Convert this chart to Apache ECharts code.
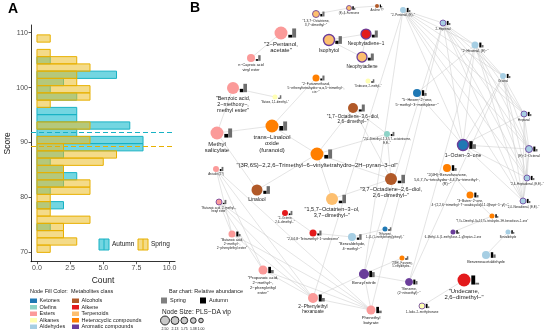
<!DOCTYPE html>
<html><head><meta charset="utf-8">
<script src="https://cdn.jsdelivr.net/npm/echarts@6/dist/echarts.min.js"></script>
<style>html,body{margin:0;padding:0;background:#fff}#c{width:550px;height:334px}</style>
</head><body><div id="c"></div><script>
// ---------- Panel A data ----------
const binCenters = [108.94,107.62,106.30,104.98,103.66,102.34,101.02,99.70,98.38,97.06,95.74,94.42,93.10,91.78,90.46,89.14,87.82,86.50,85.18,83.86,82.54,81.22,79.90,78.58,77.26,75.94,74.62,73.30,71.98,70.66];
const binWidth = 1.32;
const autumnCounts = [0,0,0,1,0,6,2,1,3,0,3,3,7,3,8,8,2,1,2,3,2,1,0,2,0,0,1,0,0,0];
const springCounts = [1,0,1,3,4,3,3,4,4,1,0,0,4,0,4,2,6,5,2,2,4,4,1,1,1,4,2,2,3,1];
const autumnMean = 91.8;
const springMean = 89.3;
const countTicks = [0,2.5,5,7.5,10];
const scoreTicks = [70,80,90,100,110];

// ---------- Panel B data ----------
const classNames = ['Ketones','Olefins','Esters','Alkanes','Aldehydes','Alcohols','Alkene','Terpenoids','Heterocyclic compounds','Aromatic compounds'];
const nodeLabels = [
 '"2−Pentanol,\nacetate"','n−Caproic acid\nvinyl ester','"Benzoic acid,\n2−methoxy−,\nmethyl ester"','"Butane, 2,2−dimethyl−"',
 'Methyl\nsalicylate','trans−Linalool\noxide\n(furanoid)','"(3R,6S)−2,2,6−Trimethyl−6−vinyltetrahydro−2H−pyran−3−ol"','Linalool',
 '"1,7−Octadiene−3,6−diol,\n2,6−dimethyl−"','"2,6−Dimethyl−1,3,5,7−octatetraene,\nE,E−"','"3,7−Octadiene−2,6−diol,\n2,6−dimethyl−"','"1,5,7−Octatrien−3−ol,\n3,7−dimethyl−"',
 '"2−Octene,\n2,6−dimethyl−"','"2,4,6,8−Tetramethyl−1−undecene"','"Benzaldehyde,\n4−methyl−"','"Ethanone,\n1−(4−(1−methylethenyl)phenyl)−"',
 '"2(3H)−Furanone,\n5−ethyldihydro−"','Benzyl nitrile','"Benzene,\n(2−nitroethyl)−"','2−Phenylethyl\nhexanoate',
 'Phenethyl\nbutyrate','"Undecane,\n2,6−dimethyl−"','1−Iodo−2−methylnonane','Benzeneacetaldehyde',
 'Benzaldehyde','6−Methyl−6−(5−methylfuran−2−yl)heptan−2−one','"7,7a−Dimethyl−3a,4,5,7a−tetrahydro−3H−benzofuran−2−one"','"3−Buten−2−one,\n4−(2,2,6−trimethyl−7−oxabicyclo[4.1.0]hept−1−yl)−"',
 '"2(4H)−Benzofuranone,\n5,6,7,7a−tetrahydro−4,4,7a−trimethyl−,\n(R)−"','1−Octen−3−one','Heptanal','(E)−2−Octenal',
 '"2,4−Heptadienal, (E,E)−"','"2,4−Nonadienal, (E,E)−"','Octanal','"2−Hexenal, (E)−"',
 '2−Heptenal','"2−Pentenal, (E)−"','"5−Hexen−2−one,\n5−methyl−3−methylene−"','"1,3,7−Octatriene,\n3,7−dimethyl−"',
 '(E)−β−Farnesene','Azulene ??','Isophytol','Neophytadiene−1',
 'Neophytadiene','"2−Furanmethanol,\n5−ethenyltetrahydro−α,α,5−trimethyl−,\ncis−"','"Undecane, 2−methyl−"','Anisole (2?)',
 '"Butanoic acid, 2−methyl−,\nhexyl ester"','"Butanoic acid,\n2−methyl−,\n2−phenylethyl ester"','"Propanoic acid,\n2−methyl−,\n2−phenylethyl\nester"'
];
const nodeClass = [2,2,2,3, 2,8,8,5, 5,1,5,7, 6,6,4,0, 8,9,9,2, 2,6,3,4, 4,9,8,8, 8,0,4,4, 4,4,4,4, 4,4,0,7, 7,5,7,6, 7,8,3,2, 2,2,2];
const nodeRing = [0,0,0,0, 0,0,0,0, 0,0,0,0, 0,0,0,0, 0,1,1,0, 0,0,1,0, 0,0,0,0, 0,1,1,1, 1,1,0,0, 1,0,0,1, 1,0,1,1, 1,0,0,0, 1,0,0];
const nodeVip = [2.5,1.67,2.33,1.17, 2.5,2.5,2.5,2.17, 2.0,1.33,2.33,2.33, 1.33,1.5,1.67,1.17, 1.17,1.83,1.5,2.0, 1.83,2.5,1.33,1.67, 1.17,1.17,1.17,1.5, 1.67,2.17,1.33,1.5, 1.33,1.33,1.33,1.5, 1.33,1.33,1.67,1.5, 1.17,1.0,2.17,2.0, 2.0,1.5,1.17,1.33, 1.33,1.5,1.83];
// layout coordinates (network layout space)
const layoutX = [96,66,48,90, 32,87,132,72, 168,202,206,147, 100,128,167,200, 217,179,224,128, 186,279,237,301, 323,268,307,285, 262,278,339,344, 342,338,318,290, 258,218,232,131, 164,192,144,181, 177,131,183,31, 34,47,78];
const layoutY = [33,58,88,97, 133,126,154,190, 108,134,179,199, 213,233,237,229, 258,274,282,298, 310,280,306,255, 232,232,216,195, 168,145,114,149, 178,201,76,45, 23,10,93,14, 8,6,40,34, 57,78,81,169, 202,234,270];
const relAutumn = [0.3,0.3,0.4,0.3, 0.4,0.5,0.4,0.4, 0.3,0.5,0.3,0.3, 0.4,0.4,0.4,0.4, 0.4,1,1,1, 1,1,1,1, 1,1,1,1, 1,1,1,1, 1,1,1,1, 1,1,1,0.5, 1,1,0.4,0.4, 0.4,0.4,0.4,0.5, 0.3,1,1];
const relSpring = [1,1,1,1, 1,1,1,1, 1,1,1,1, 1,1,1,1, 1,0.8,0.7,0.5, 0.4,0.2,0.4,0.6, 0.5,0.5,0.5,0.5, 0.5,0.6,0.5,0.5, 0.5,0.5,0.5,0.5, 0.5,0.5,0.5,1, 0.5,0.5,1,1, 1,1,1,1, 1,0.5,0.5];
const edges = [
 [0,1],[2,3],[2,4],[4,5],[4,7],[5,6],[5,45],[6,8],[6,9],[6,10],[6,11],[10,11],[9,10],[8,9],[8,10],[7,6],[13,14],[14,15],[12,13],
 [17,18],[17,19],[17,20],[19,20],[17,16],[21,22],[23,24],[25,26],[26,27],[27,28],[39,40],[40,41],[42,43],[43,44],[42,44],
 [37,36],[37,35],[37,34],[37,30],[37,31],[37,32],[37,33],[36,35],[36,34],[36,30],[36,31],[36,32],[36,33],[35,34],[35,30],[35,31],[35,32],[35,33],
 [34,30],[34,31],[34,32],[34,33],[30,31],[30,32],[30,33],[31,32],[31,33],[32,33],[29,30],[29,31],[29,32],[29,33],[29,34],[29,35],[29,36],[29,37],[38,35],[38,29],
 [37,17],[36,17],[35,18],[34,18],[36,20],[37,19],
 [47,49],[47,50],[47,19],[47,20],[48,49],[48,50],[48,19],[48,20],[50,19],[50,20],[49,19],[49,20]
];
const vipLegend = [2.50,2.13,1.75,1.38,1.00];

const classColors = ['#1F78B4','#8DD3C7','#FB9A99','#FFFFB3','#A6CEE3','#B15928','#E31A1C','#FDBF6F','#FF7F00','#6A3D9A'];
const FONT = 'Liberation Sans, Arial, sans-serif';
const radiusOf = v => 2 + 3 * (v - 1);
const AUT_FILL = 'rgba(0,180,200,0.55)', AUT_LINE = '#18B2C4';
const SPR_FILL = 'rgba(235,190,40,0.55)', SPR_LINE = '#E8B000';

const chart = echarts.init(document.getElementById('c'), null, {renderer:'canvas'});

function histItem(fill, stroke) {
  return (params, api) => {
    const c = api.value(0), n = api.value(1);
    if (!n) return null;
    const p0 = api.coord([0, c + binWidth/2]);
    const p1 = api.coord([n, c - binWidth/2]);
    return {type:'rect', shape:{x:p0[0], y:p0[1], width:p1[0]-p0[0], height:p1[1]-p0[1]},
      style:{fill:fill, stroke:stroke, lineWidth:1}};
  };
}

const nodes = nodeLabels.map((lab, i) => {
  const r = radiusOf(nodeVip[i]);
  const fs = Math.max(2.6, 0.4 + 0.85 * r);
  return {
    name: 'n' + i,
    value: [layoutX[i], layoutY[i]],
    symbolSize: 2 * r,
    itemStyle: {color: classColors[nodeClass[i]], borderColor: nodeRing[i] ? '#6A3D9A' : 'rgba(0,0,0,0)', borderWidth: nodeRing[i] ? Math.max(0.8, r*0.25) : 0},
    label: {show:true, position:'bottom', distance:1, formatter: lab, fontSize: fs, lineHeight: fs*1.15, color:'#1a1a1a', fontFamily: FONT, align:'center'}
  };
});

const glyphData = nodeLabels.map((l, i) => [layoutX[i], layoutY[i], relAutumn[i], relSpring[i], nodeVip[i]]);

const legendGraphics = [];
legendGraphics.push({type:'text', left:8, top:2, style:{text:'A', font:'bold 14px '+FONT, fill:'#000'}});
legendGraphics.push({type:'text', left:190, top:1, style:{text:'B', font:'bold 14px '+FONT, fill:'#000'}});
[['Autumn',AUT_FILL,AUT_LINE,99],['Spring',SPR_FILL,SPR_LINE,138]].forEach(k=>{
  legendGraphics.push({type:'rect', shape:{x:k[3], y:239, width:10, height:11}, style:{fill:k[1], stroke:k[2], lineWidth:1}});
  legendGraphics.push({type:'line', shape:{x1:k[3]+5, y1:239, x2:k[3]+5, y2:250}, style:{stroke:k[2], lineWidth:1}});
  legendGraphics.push({type:'text', x:k[3]+13, y:244.5, style:{text:k[0], font:'6.5px '+FONT, fill:'#1a1a1a', verticalAlign:'middle'}});
});
legendGraphics.push({type:'text', x:30, y:291, style:{text:'Node Fill Color:  Metabolites class', font:'5.5px '+FONT, fill:'#1a1a1a', verticalAlign:'middle'}});
classNames.forEach((n, i) => {
  const col = Math.floor(i/5), row = i%5;
  const x = 30 + col*42, y = 298.5 + row*6.5;
  legendGraphics.push({type:'rect', shape:{x:x, y:y, width:7, height:4.5}, style:{fill:classColors[i]}});
  legendGraphics.push({type:'text', x:x+9.5, y:y+2.3, style:{text:n, font:'5.5px '+FONT, fill:'#1a1a1a', verticalAlign:'middle'}});
});
legendGraphics.push({type:'text', x:169, y:291.5, style:{text:'Bar chart: Relative abundance', font:'5.5px '+FONT, fill:'#1a1a1a', verticalAlign:'middle'}});
legendGraphics.push({type:'rect', shape:{x:161, y:297.5, width:6, height:6}, style:{fill:'#808080'}});
legendGraphics.push({type:'text', x:170, y:300.5, style:{text:'Spring', font:'5.5px '+FONT, fill:'#1a1a1a', verticalAlign:'middle'}});
legendGraphics.push({type:'rect', shape:{x:200, y:297.5, width:6, height:6}, style:{fill:'#000'}});
legendGraphics.push({type:'text', x:209, y:300.5, style:{text:'Autumn', font:'5.5px '+FONT, fill:'#1a1a1a', verticalAlign:'middle'}});
legendGraphics.push({type:'text', x:162, y:312, style:{text:'Node Size: PLS−DA vip', font:'6.5px '+FONT, fill:'#1a1a1a', verticalAlign:'middle'}});
const lgX = [165,175,184.3,193.3,201];
vipLegend.forEach((v,i)=>{
  const r = 2.3 + (v-1)*1.45;
  legendGraphics.push({type:'circle', shape:{cx:lgX[i], cy:320.5, r:r}, style:{fill:'#c8c8c8', stroke:'#000', lineWidth:0.8}});
  legendGraphics.push({type:'text', x:lgX[i], y:329, style:{text:v.toFixed(2), font:'3.5px '+FONT, fill:'#1a1a1a', align:'center', verticalAlign:'middle'}});
});

const option = {
  animation:false,
  textStyle:{fontFamily:FONT},
  grid:[
    {left:31, top:25, width:144, height:236.7, containLabel:false},
    {left:185, top:0, width:365, height:334, containLabel:false}
  ],
  xAxis:[
    {type:'value', gridIndex:0, min:-0.45, max:10.41, name:'Count', nameLocation:'middle', nameGap:13,
     nameTextStyle:{fontSize:8.5, color:'#1a1a1a'},
     axisLine:{show:true, onZero:false, lineStyle:{color:'#000', width:0.8}},
     axisTick:{show:true, length:2.5, customValues:countTicks, lineStyle:{color:'#333', width:0.8}},
     axisLabel:{customValues:countTicks, formatter:v=>v.toFixed(1), fontSize:7, color:'#4d4d4d', margin:3},
     splitLine:{show:false}},
    {type:'value', gridIndex:1, min:0, max:365, show:false}
  ],
  yAxis:[
    {type:'value', gridIndex:0, min:68.3, max:111.4, name:'Score', nameLocation:'middle', nameGap:18, nameRotate:90,
     nameTextStyle:{fontSize:8.5, color:'#1a1a1a'},
     axisLine:{show:true, onZero:false, lineStyle:{color:'#000', width:0.8}},
     axisTick:{show:true, length:2.5, customValues:scoreTicks, lineStyle:{color:'#333', width:0.8}},
     axisLabel:{customValues:scoreTicks, fontSize:7, color:'#4d4d4d', margin:3},
     splitLine:{show:false}},
    {type:'value', gridIndex:1, min:0, max:334, inverse:true, show:false}
  ],
  graphic: legendGraphics,
  series:[
    {type:'custom', name:'Autumn', xAxisIndex:0, yAxisIndex:0, z:2,
     data: binCenters.map((c,i)=>[c, autumnCounts[i]]), encode:{x:1, y:0},
     renderItem: histItem(AUT_FILL, AUT_LINE)},
    {type:'custom', name:'Spring', xAxisIndex:0, yAxisIndex:0, z:3,
     data: binCenters.map((c,i)=>[c, springCounts[i]]), encode:{x:1, y:0},
     renderItem: histItem(SPR_FILL, SPR_LINE)},
    {type:'line', xAxisIndex:0, yAxisIndex:0, data:[], z:5,
     markLine:{silent:true, symbol:'none', label:{show:false},
       data:[{yAxis:autumnMean, lineStyle:{color:AUT_LINE}},{yAxis:springMean, lineStyle:{color:SPR_LINE}}],
       lineStyle:{type:[5,3], width:1}}},
    {type:'graph', coordinateSystem:'cartesian2d', xAxisIndex:1, yAxisIndex:1, layout:'none', z:3,
     symbol:'circle', data:nodes,
     links: edges.map(e=>({source:e[0], target:e[1]})),
     lineStyle:{color:'#c8c8c8', width:0.5, opacity:1, curveness:0},
     emphasis:{disabled:true}, silent:true},
    {type:'custom', xAxisIndex:1, yAxisIndex:1, z:4, data:glyphData, silent:true,
     renderItem:(params, api)=>{
       const c = api.coord([api.value(0), api.value(1)]);
       const r = radiusOf(api.value(4));
       const bw = Math.max(1.2, 0.6*r), H = 1.4*r;
       const x0 = c[0] + r + 0.8, base = c[1] + 0.7*r;
       const ha = api.value(2)*H, hs = api.value(3)*H;
       return {type:'group', children:[
         {type:'rect', shape:{x:x0, y:base-ha, width:bw, height:ha}, style:{fill:'#000'}},
         {type:'rect', shape:{x:x0+bw, y:base-hs, width:bw, height:hs}, style:{fill:'#6e6e6e'}}
       ]};
     }}
  ]
};
chart.setOption(option);
</script></body></html>
